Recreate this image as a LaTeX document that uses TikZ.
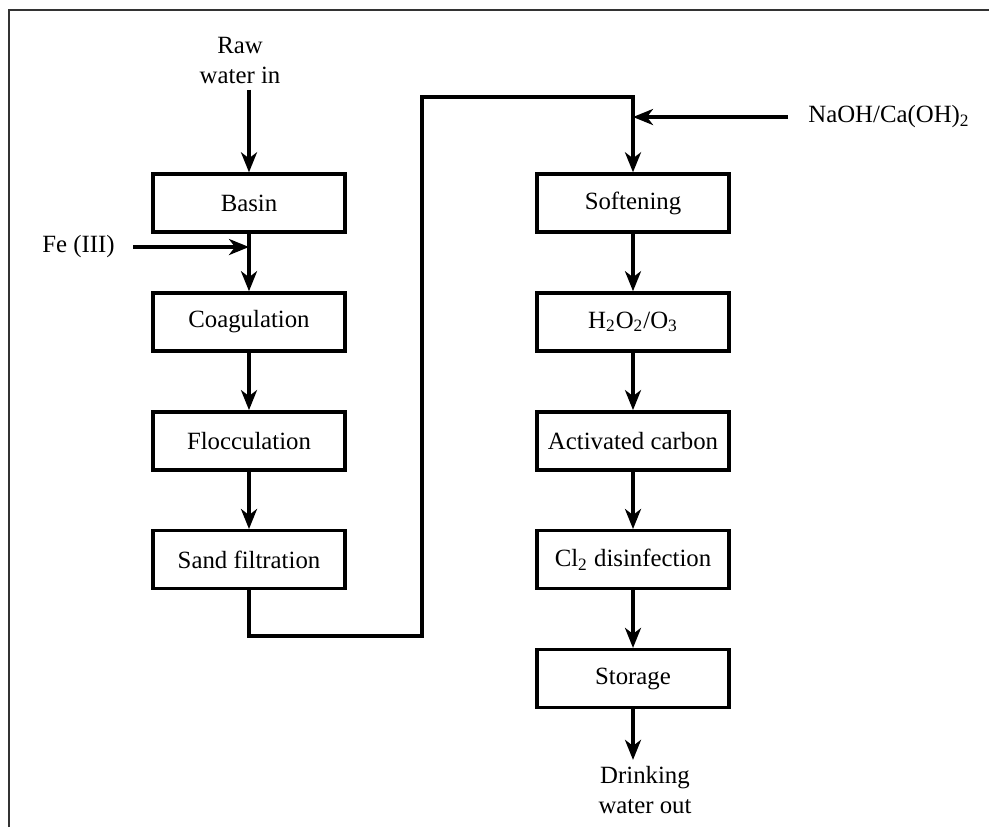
\documentclass[tikz,border=0pt]{standalone}
\usepackage{fontspec}
\setmainfont{Liberation Serif}
\usetikzlibrary{arrows.meta, positioning, calc}

\begin{document}
\begin{tikzpicture}[
		x=0.5pt, y=-0.5pt,
		font=\fontsize{12.4}{15}\selectfont,
		% Process step styles
		stepbox/.style={draw=black, line width=1.7pt, minimum width=96pt, minimum height=29pt, inner sep=2pt, anchor=center},
		% Stream styles
		flow/.style={-{Stealth[length=10pt, width=8pt, inset=3pt]}, line width=1.7pt},
		streamlabel/.style={align=center, inner sep=3pt},
		frameline/.style={draw=black!80, line width=1pt}
		]
		
		\useasboundingbox (0,0) rectangle (989,827);
		
		% --- LEFT COLUMN: PRE-TREATMENT ---
		
		\node[stepbox] (basin) at (249,203) {Basin};
		\node[stepbox, below=28.75pt of basin] (coag) {Coagulation};
		\node[stepbox, below=28.75pt of coag] (floc) {Flocculation};
		\node[stepbox, below=28.75pt of floc] (sand) {Sand filtration};
		
		% Inlets
		\node[streamlabel] (raw) at (240,60) {Raw\\water in};
		\node[streamlabel, anchor=east] (fe) at (121,247) {Fe (III)};
		
		\draw[flow] (raw.south -| basin.north) -- (basin.north);
		\draw[flow] ([xshift=6pt]fe.east) -- (fe.east -| basin.south);
		\draw[flow] (basin) -- (coag);
		\draw[flow] (coag) -- (floc);
		\draw[flow] (floc) -- (sand);
		
		
		% --- RIGHT COLUMN: POLISHING ---
		
		\node[stepbox] (soft) at (633,203) {Softening};
		\node[stepbox, below=28.75pt of soft] (oxid) {H\textsubscript{2}O\textsubscript{2}/O\textsubscript{3}};
		\node[stepbox, below=28.75pt of oxid] (carbon) {Activated carbon};
		\node[stepbox, below=28.75pt of carbon] (chlor) {Cl\textsubscript{2} disinfection};
		\node[stepbox, below=28.75pt of chlor] (storage) {Storage};
		
		% Dosing and outlet
		\node[streamlabel, anchor=west] (naoh) at (802,117) {NaOH/Ca(OH)\textsubscript{2}};
		\node[streamlabel] (drink) at (645,790) {Drinking\\water out};
		
		\draw[flow] ([xshift=-7pt]naoh.west) -- (naoh.west -| soft.north);
		\draw[flow] (soft) -- (oxid);
		\draw[flow] (oxid) -- (carbon);
		\draw[flow] (carbon) -- (chlor);
		\draw[flow] (chlor) -- (storage);
		\draw[flow] (storage.south) -- (storage.south |- drink.north);
		
		% Transfer line between columns
		\coordinate (loop_low) at (422,636);
		\coordinate (loop_high) at (422,97);
		\draw[flow] (sand.south) |- (loop_low) -- (loop_high) -| (soft.north);
		
		% Frame
		\draw[frameline] (9,827) -- (9,10) -- (989,10);
		
	\end{tikzpicture}
\end{document}
